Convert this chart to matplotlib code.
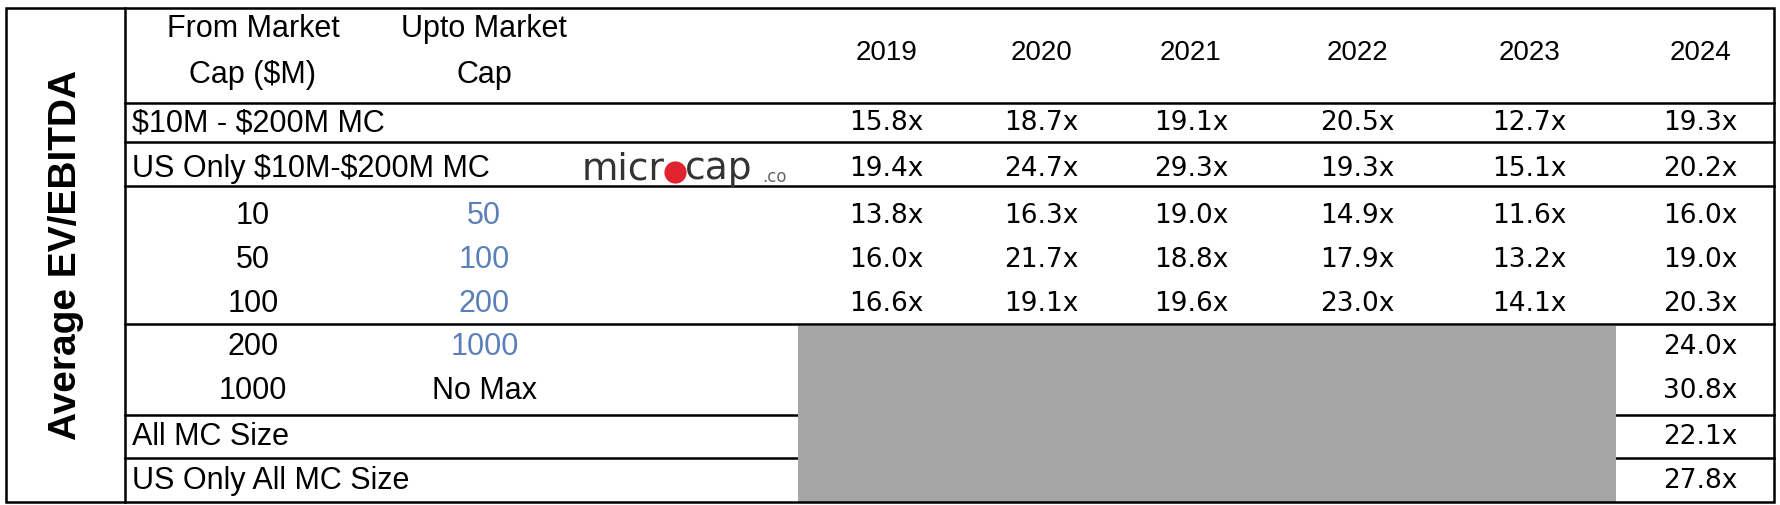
import matplotlib
matplotlib.use("Agg")
import matplotlib.pyplot as plt
from matplotlib.patches import Rectangle

plt.rcParams["text.parse_math"] = False

years = ["2019", "2020", "2021", "2022", "2023", "2024"]
row_labels = ["$10M - $200M MC", "US Only $10M-$200M MC"]
row_values = [["15.8x", "18.7x", "19.1x", "20.5x", "12.7x", "19.3x"],
              ["19.4x", "24.7x", "29.3x", "19.3x", "15.1x", "20.2x"]]
band_from = ["10", "50", "100"]
band_upto = ["50", "100", "200"]
band_values = [["13.8x", "16.3x", "19.0x", "14.9x", "11.6x", "16.0x"],
               ["16.0x", "21.7x", "18.8x", "17.9x", "13.2x", "19.0x"],
               ["16.6x", "19.1x", "19.6x", "23.0x", "14.1x", "20.3x"]]
large_from = ["200", "1000"]
large_upto = ["1000", "No Max"]
large_values = ["24.0x", "30.8x"]
all_labels = ["All MC Size", "US Only All MC Size"]
all_values = ["22.1x", "27.8x"]

fig = plt.figure(figsize=(17.8, 5.06), dpi=100)
ax = fig.add_axes([0, 0, 1, 1])
ax.set_xlim(0, 1562); ax.set_ylim(440, 0); ax.axis("off")

xs = [778, 914, 1045, 1191, 1342, 1492]
LF = "Liberation Sans"
NF = "DejaVu Sans"
blue = "#5b80b8"
fs = 22
vfs = 19

for y in [90, 124, 163, 283, 362, 399]:
    ax.plot([110, 1557], [y, y], color="black", lw=1.8, zorder=1)
ax.add_patch(Rectangle((700, 284), 718, 153, color="#a6a6a6", lw=0, zorder=2))
ax.add_patch(Rectangle((5, 8), 1552, 429, fill=False, lw=1.8, ec="black", zorder=3))
ax.plot([110, 110], [8, 437], color="black", lw=1.8, zorder=3)

ax.text(58, 222, "Average EV/EBITDA", rotation=90, ha="center", va="center",
        fontsize=28, fontweight="bold", family="Liberation Sans")

ax.text(222, 25, "From Market", ha="center", va="center", fontsize=fs, family=LF)
ax.text(222, 65, "Cap ($M)", ha="center", va="center", fontsize=fs, family=LF)
ax.text(425, 25, "Upto Market", ha="center", va="center", fontsize=fs, family=LF)
ax.text(425, 65, "Cap", ha="center", va="center", fontsize=fs, family=LF)
for x, yr in zip(xs, years):
    ax.text(x, 46, yr, ha="center", va="center", fontsize=20, family="Liberation Sans")

for i, (lab, vals) in enumerate(zip(row_labels, row_values)):
    y = [107, 147][i]
    ax.text(116, y, lab, ha="left", va="center", fontsize=fs, family=LF)
    for x, v in zip(xs, vals):
        ax.text(x, y, v, ha="center", va="center", fontsize=vfs, family=NF)

for i in range(3):
    y = 188 + i * 38
    ax.text(222, y, band_from[i], ha="center", va="center", fontsize=fs, family=LF)
    ax.text(425, y, band_upto[i], ha="center", va="center", fontsize=fs, family=LF, color=blue)
    for x, v in zip(xs, band_values[i]):
        ax.text(x, y, v, ha="center", va="center", fontsize=vfs, family=NF)

for i in range(2):
    y = 302 + i * 38
    ax.text(222, y, large_from[i], ha="center", va="center", fontsize=fs, family=LF)
    ax.text(425, y, large_upto[i], ha="center", va="center", fontsize=fs, family=LF,
            color=blue if i == 0 else "black")
    ax.text(xs[-1], y, large_values[i], ha="center", va="center", fontsize=vfs, family=NF)

for i in range(2):
    y = [380, 418][i]
    ax.text(116, y, all_labels[i], ha="left", va="center", fontsize=fs, family=LF)
    ax.text(xs[-1], y, all_values[i], ha="center", va="center", fontsize=vfs, family=NF)

# logo
lg = "#333333"
ax.text(510, 147, "micr", ha="left", va="center", fontsize=27, family="DejaVu Sans",
        color=lg)
ax.plot([592], [150], "o", color="#e0242f", ms=15)
ax.text(601, 147, "cap", ha="left", va="center", fontsize=27, family="DejaVu Sans", color=lg)
ax.text(669, 154, ".co", ha="left", va="center", fontsize=12, family="DejaVu Sans", color="#666666")

fig.savefig("out.png", dpi=100)
